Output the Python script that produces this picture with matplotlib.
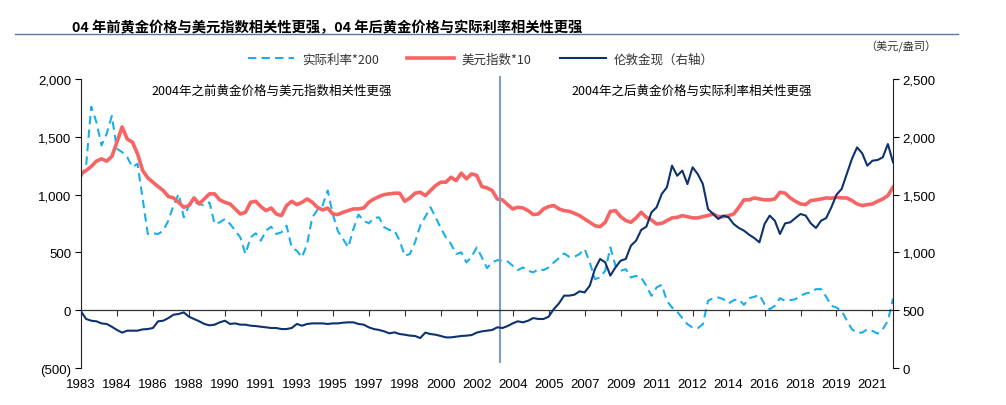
import matplotlib
matplotlib.use("Agg")
import matplotlib.pyplot as plt
from matplotlib.ticker import FuncFormatter
from matplotlib.lines import Line2D

# quarterly readings, 1983Q1 .. 2022Q3
real_rate_200 = [1150, 1251, 1760, 1627, 1425, 1526, 1680, 1396, 1367, 1324,
                 1237, 1266, 962, 659, 665, 659, 688, 775, 905, 1006,
                 803, 905, 933, 919, 905, 933, 746, 760, 789, 746,
                 688, 630, 486, 630, 665, 601, 688, 722, 659, 673,
                 731, 543, 514, 457, 572, 803, 867, 905, 1035, 832,
                 682, 616, 543, 702, 827, 775, 751, 798, 803, 717,
                 694, 688, 601, 471, 486, 587, 731, 809, 890, 803,
                 711, 630, 572, 486, 500, 413, 462, 543, 457, 364,
                 413, 433, 428, 422, 384, 347, 370, 341, 327, 355,
                 347, 370, 413, 451, 491, 462, 462, 486, 529, 413,
                 269, 283, 341, 543, 384, 341, 355, 283, 297, 283,
                 211, 124, 197, 220, 81, 23, -12, -69, -121, -150,
                 -156, -121, 81, 104, 110, 95, 58, 87, 95, 46,
                 104, 116, 133, 52, 9, 38, 104, 81, 87, 95,
                 124, 145, 153, 182, 182, 116, 38, 23, -6, -87,
                 -165, -194, -194, -165, -179, -202, -165, -92, 100]

usd_index_10 = [1179, 1208, 1243, 1289, 1309, 1289, 1329, 1454, 1585, 1480,
                1454, 1353, 1208, 1144, 1107, 1069, 1035, 983, 971, 933,
                890, 905, 971, 919, 962, 1006, 1006, 954, 933, 919,
                876, 832, 847, 933, 942, 896, 861, 884, 832, 818,
                905, 942, 913, 933, 962, 933, 890, 867, 884, 832,
                827, 847, 861, 876, 876, 884, 933, 962, 983, 1000,
                1006, 1012, 1012, 942, 971, 1012, 1020, 991, 1035, 1078,
                1107, 1107, 1150, 1121, 1185, 1136, 1179, 1165, 1069, 1058,
                1035, 962, 954, 913, 876, 890, 884, 861, 827, 832,
                876, 896, 905, 876, 861, 855, 838, 818, 789, 760,
                731, 722, 760, 855, 861, 809, 775, 760, 798, 847,
                803, 780, 746, 751, 775, 798, 803, 818, 809, 798,
                798, 809, 818, 832, 809, 809, 818, 832, 890, 954,
                954, 971, 962, 954, 954, 962, 1020, 1012, 971, 942,
                919, 913, 948, 954, 962, 971, 968, 977, 971, 971,
                948, 919, 905, 913, 919, 942, 962, 991, 1064]

gold = [490, 424, 409, 404, 386, 381, 357, 329, 306, 323,
        323, 323, 334, 337, 346, 404, 409, 432, 461, 467,
        481, 444, 424, 404, 381, 369, 375, 395, 409, 381,
        386, 375, 375, 366, 363, 357, 352, 346, 346, 337,
        337, 346, 381, 366, 381, 386, 386, 386, 381, 386,
        386, 392, 395, 395, 381, 375, 352, 337, 329, 317,
        300, 308, 294, 288, 280, 277, 259, 306, 294, 288,
        277, 265, 265, 271, 277, 280, 285, 306, 317, 323,
        329, 352, 346, 363, 386, 404, 395, 409, 432, 424,
        424, 444, 510, 559, 626, 626, 634, 663, 654, 712,
        856, 943, 914, 799, 871, 928, 943, 1058, 1101, 1194,
        1222, 1346, 1390, 1505, 1563, 1750, 1663, 1707, 1591, 1736,
        1678, 1591, 1375, 1332, 1289, 1318, 1303, 1245, 1211, 1188,
        1153, 1124, 1087, 1245, 1318, 1274, 1159, 1251, 1260, 1297,
        1332, 1318, 1251, 1211, 1274, 1297, 1390, 1499, 1548, 1678,
        1808, 1908, 1857, 1750, 1793, 1799, 1822, 1937, 1779]

year_labels = ["1983", "1984", "1986", "1988", "1990", "1991", "1993", "1995",
               "1997", "1998", "2000", "2002", "2004", "2005", "2007", "2009",
               "2011", "2012", "2014", "2016", "2018", "2019", "2021"]

cjk = ["Noto Sans CJK SC", "DejaVu Sans"]
plt.rcParams["font.family"] = ["Liberation Sans", "Noto Sans CJK SC"]

c_rate = "#1AAFEB"
c_usd = "#F66464"
c_gold = "#0D3270"

fig = plt.figure(figsize=(10.06, 4.06), dpi=100)
ax = fig.add_axes([0.0805, 0.0911, 0.8072, 0.712])
ax2 = ax.twinx()

x = list(range(len(gold)))
ax.plot(x, real_rate_200, color=c_rate, lw=1.5, ls=(0, (4, 2.5)))
ax.plot(x, usd_index_10, color=c_usd, lw=2.6)
ax2.plot(x, gold, color=c_gold, lw=1.5)

ax.set_xlim(0, len(x) - 1)
ax.set_ylim(-500, 2000)
ax2.set_ylim(0, 2500)
ax.set_yticks(range(-500, 2001, 500))
ax2.set_yticks(range(0, 2501, 500))


def fmt_left(v, pos):
    if v < 0:
        return "({:,.0f})".format(-v)
    return "{:,.0f}".format(v)


ax.yaxis.set_major_formatter(FuncFormatter(fmt_left))
ax2.yaxis.set_major_formatter(FuncFormatter(lambda v, p: "{:,.0f}".format(v)))

for s in ["top", "right"]:
    ax.spines[s].set_visible(False)
for s in ["top", "left", "bottom"]:
    ax2.spines[s].set_visible(False)
ax.spines["left"].set_color("#222222")
ax2.spines["right"].set_color("#222222")
ax.spines["bottom"].set_position(("data", 0))
ax.spines["bottom"].set_color("#333333")
ax.spines["bottom"].set_linewidth(0.9)

ticks = [i * 7 for i in range(len(year_labels))]
ax.set_xticks(ticks)
ax.tick_params(axis="x", direction="out", length=4, labelbottom=False, color="#333333")
ax.tick_params(axis="y", direction="out", length=4, labelsize=9.5, pad=3)
ax2.tick_params(axis="y", direction="out", length=4, labelsize=9.5, pad=3)

secax = ax.secondary_xaxis("bottom")
secax.set_xticks(ticks, labels=year_labels)
secax.spines["bottom"].set_visible(False)
secax.tick_params(length=0, pad=7, labelsize=9.5)

# split line at 2003
ax.axvline(81.5, ymin=0.02, ymax=1.008, color="#7F9CC4", lw=1.5, clip_on=False)

ax.text(0.235, 0.96, "2004年之前黄金价格与美元指数相关性更强", transform=ax.transAxes,
        ha="center", va="center", fontsize=9, family=cjk)
ax.text(0.752, 0.96, "2004年之后黄金价格与实际利率相关性更强", transform=ax.transAxes,
        ha="center", va="center", fontsize=9, family=cjk)

fig.text(0.072, 0.932, "04 年前黄金价格与美元指数相关性更强，04 年后黄金价格与实际利率相关性更强",
         fontsize=10.3, fontweight="bold", family=cjk, ha="left", va="center")
fig.add_artist(Line2D([0.015, 0.952], [0.913, 0.913], color="#5A78A6", lw=1.0))
fig.text(0.895, 0.884, "（美元/盎司）", fontsize=8, family=cjk, ha="center", va="center",
         color="#333333")

handles = [Line2D([], [], color=c_rate, lw=1.5, ls=(0, (4, 2.5))),
           Line2D([], [], color=c_usd, lw=2.6),
           Line2D([], [], color=c_gold, lw=1.5)]
names = ["实际利率*200", "美元指数*10", "伦敦金现（右轴）"]
leg = fig.legend(handles, names, ncol=3, loc="center", bbox_to_anchor=(0.478, 0.852),
                 frameon=False, handlelength=3.7, handletextpad=0.6, columnspacing=2.3,
                 prop={"family": cjk, "size": 9})
for t in leg.get_texts():
    t.set_color("#333333")

fig.savefig("out.png", dpi=100)
